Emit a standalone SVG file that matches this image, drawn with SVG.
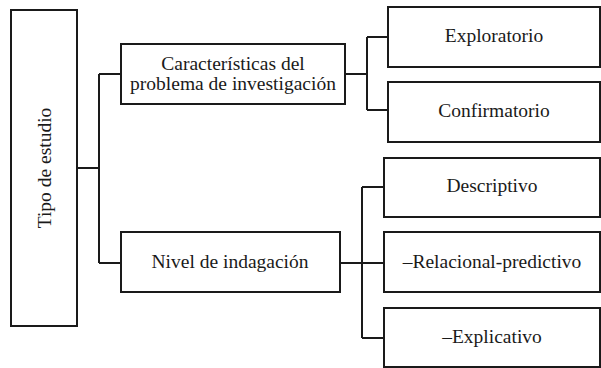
<svg xmlns="http://www.w3.org/2000/svg" width="601" height="368" viewBox="0 0 601 368">
<style>
.box{fill:#fff;stroke:#1a1a1a;stroke-width:2}
.t{font-family:"Liberation Serif",serif;font-size:19.5px;fill:#1a1a1a;text-anchor:middle}
.c{fill:none;stroke:#1a1a1a;stroke-width:2}
</style>
<rect width="601" height="368" fill="#fff"/>
<g id="connectors">
<path class="c" d="M77 168H99M99 74V263M99 74H121M99 263H121"/>
<path class="c" d="M345 74H367M367 37V110M367 37H388M367 110H388"/>
<path class="c" d="M340 263H384M362 187V338M362 187H384M362 338H384"/>
</g>
<g id="tipo">
<rect class="box" x="11" y="10" width="66" height="316"/>
<text class="t" transform="translate(51 168) rotate(-90)">Tipo de estudio</text>
</g>
<g id="caracteristicas">
<rect class="box" x="121" y="44" width="224" height="60"/>
<text class="t" x="233" y="70">Características del</text>
<text class="t" x="233" y="90">problema de investigación</text>
</g>
<g id="nivel">
<rect class="box" x="121" y="232" width="219" height="60"/>
<text class="t" x="230" y="268">Nivel de indagación</text>
</g>
<g id="exploratorio">
<rect class="box" x="388" y="7" width="212" height="60"/>
<text class="t" x="494" y="42">Exploratorio</text>
</g>
<g id="confirmatorio">
<rect class="box" x="388" y="82" width="212" height="60"/>
<text class="t" x="494" y="117">Confirmatorio</text>
</g>
<g id="descriptivo">
<rect class="box" x="384" y="158" width="216" height="59"/>
<text class="t" x="492" y="192">Descriptivo</text>
</g>
<g id="relacional">
<rect class="box" x="384" y="232" width="216" height="60"/>
<text class="t" x="492" y="268">–Relacional-predictivo</text>
</g>
<g id="explicativo">
<rect class="box" x="384" y="308" width="216" height="59"/>
<text class="t" x="492" y="343">–Explicativo</text>
</g>
</svg>
